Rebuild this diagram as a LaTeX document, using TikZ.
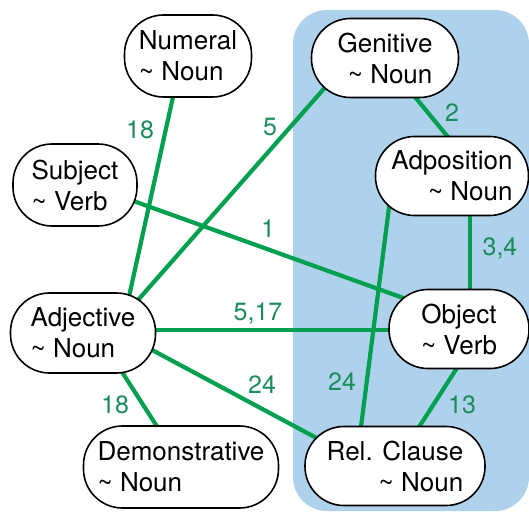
\documentclass[tikz,border=0pt]{standalone}
\usepackage{fontspec}
\setmainfont{TeX Gyre Heros}
\usetikzlibrary{backgrounds}
\definecolor{panelblue}{RGB}{175,210,236}
\definecolor{edgegreen}{RGB}{0,160,80}
\definecolor{labgreen}{RGB}{25,140,90}
\newcommand{\tl}{\textasciitilde\ }
\tikzset{
  wbox/.style={draw=black, line width=1.6pt, fill=white, rounded corners=39pt,
    inner sep=0pt, font=\fontsize{26}{31}\selectfont},
  link/.style={draw=edgegreen, line width=4.2pt},
  lab/.style={text=labgreen, inner sep=0pt, font=\fontsize{25}{28}\selectfont}
}
\begin{document}
\begin{tikzpicture}[x=1pt,y=-1pt]
\useasboundingbox (0,0) rectangle (529,513);
% nodes
\node[wbox, minimum width=127pt, minimum height=82pt, align=left] (num) at (188,56) {Numeral\\\tl Noun};
\node[wbox, minimum width=124pt, minimum height=82pt, align=left] (subj) at (75,185) {Subject\\\tl Verb};
\node[wbox, minimum width=147pt, minimum height=79pt, align=right] (gen) at (385,58) {Genitive\\\tl Noun};
\node[wbox, minimum width=153pt, minimum height=79pt, align=right] (adpo) at (452,176) {Adposition\\\tl Noun};
\node[wbox, minimum width=145pt, minimum height=80pt, align=left] (adj) at (83,333) {Adjective\\\tl Noun};
\node[wbox, minimum width=195pt, minimum height=82pt, align=left] (dem) at (181,467) {Demonstrative\\\tl Noun};
\node[wbox, minimum width=140pt, minimum height=79pt, align=center] (obj) at (459,329) {Object\\\tl Verb};
\node[wbox, minimum width=180pt, minimum height=79pt, align=right] (rel) at (395,466) {Rel. Clause\\\tl Noun};
% labels
\node[lab] (l1) at (140,130) {18};
\node[lab] (l2) at (270,127) {5};
\node[lab] (l3) at (268,229) {1};
\node[lab] (l4) at (258,313) {5,17};
\node[lab] (l5) at (262,385) {24};
\node[lab] (l6) at (115,405) {18};
\node[lab] (l7) at (452,113) {2};
\node[lab] (l8) at (500,248) {3,4};
\node[lab] (l9) at (342,382) {24};
\node[lab] (l10) at (462,405) {13};
\begin{pgfonlayer}{background}
\fill[panelblue, rounded corners=34pt] (293,10) rectangle (529,511);
\draw[link] ([shift={(-6,0)}]num.center) -- ([shift={(38,0)}]adj.center);
\draw[link] ([shift={(0,-5)}]subj.center) -- ([shift={(0,-11)}]obj.center);
\draw[link] ([shift={(26,0)}]adj.center) -- ([shift={(-34,0)}]gen.center);
\draw[link] ([shift={(0,-3)}]adj.center) -- ([shift={(0,1)}]obj.center);
\draw[link] ([shift={(0,-20)}]adj.center) -- ([shift={(0,14)}]rel.center);
\draw[link] ([shift={(14,0)}]adj.center) -- ([shift={(2,0)}]dem.center);
\draw[link] ([shift={(-2,0)}]gen.center) -- ([shift={(28,0)}]adpo.center);
\draw[link] ([shift={(18,0)}]adpo.center) -- ([shift={(11,0)}]obj.center);
\draw[link] ([shift={(-59,0)}]adpo.center) -- ([shift={(-39,0)}]rel.center);
\draw[link] ([shift={(23,0)}]obj.center) -- ([shift={(-1,0)}]rel.center);
\end{pgfonlayer}
\end{tikzpicture}
\end{document}
